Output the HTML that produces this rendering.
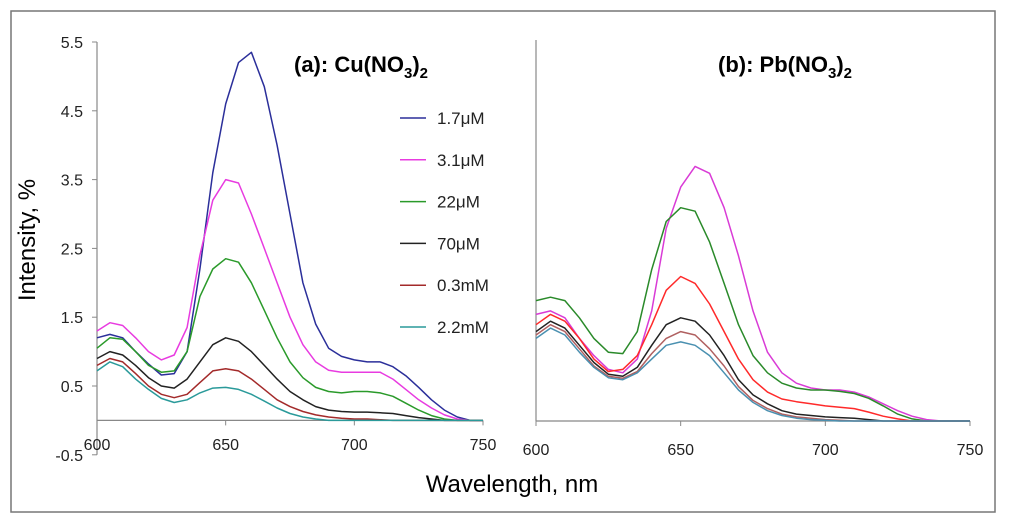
<!DOCTYPE html>
<html><head><meta charset="utf-8"><style>
body{margin:0;background:#fff;}
svg text{font-family:"Liberation Sans",sans-serif;}
</style></head><body>
<svg id="chart" width="1024" height="526" xmlns="http://www.w3.org/2000/svg">
<rect x="11" y="11" width="984" height="501" fill="#fff" stroke="#777" stroke-width="1.5"/>
<g id="ga"></g>
<g id="gb"></g>
<text x="35" y="240" font-size="24" text-anchor="middle" transform="rotate(-90 35 240)">Intensity, %</text>
<text x="512" y="492" font-size="24" text-anchor="middle">Wavelength, nm</text>
<text x="294" y="72" font-size="22" font-weight="bold">(a): Cu(NO<tspan font-size="15" dy="6">3</tspan><tspan dy="-6">)</tspan><tspan font-size="15" dy="6">2</tspan></text>
<text x="718" y="72" font-size="22" font-weight="bold">(b): Pb(NO<tspan font-size="15" dy="6">3</tspan><tspan dy="-6">)</tspan><tspan font-size="15" dy="6">2</tspan></text>
<g id="legend"></g>
</svg>
<script>
const wl=[600,605,610,615,620,625,630,635,640,645,650,655,660,665,670,675,680,685,690,695,700,705,710,715,720,725,730,735,740,745,750];
const labels=["1.7μM","3.1μM","22μM","70μM","0.3mM","2.2mM"];
const yTicks=[-0.5,0.5,1.5,2.5,3.5,4.5,5.5];
const xTicks=[600,650,700,750];
const aBlue=[1.2,1.25,1.2,1.0,0.82,0.66,0.68,1.0,2.2,3.6,4.6,5.2,5.35,4.85,4.0,3.0,2.0,1.4,1.05,0.93,0.88,0.85,0.85,0.78,0.65,0.48,0.3,0.15,0.05,0,0];
const aMagenta=[1.3,1.42,1.38,1.2,1.0,0.88,0.95,1.35,2.4,3.2,3.5,3.45,3.0,2.5,2.0,1.5,1.1,0.85,0.73,0.7,0.7,0.7,0.7,0.6,0.45,0.3,0.18,0.08,0.02,0,0];
const aGreen=[1.05,1.2,1.18,1.0,0.8,0.7,0.72,1.0,1.8,2.2,2.35,2.3,2.0,1.6,1.2,0.85,0.62,0.48,0.42,0.4,0.42,0.42,0.4,0.35,0.25,0.15,0.07,0.02,0,0,0];
const aBlack=[0.9,1.0,0.95,0.8,0.62,0.5,0.47,0.6,0.85,1.1,1.2,1.15,1.0,0.8,0.6,0.42,0.3,0.2,0.15,0.13,0.12,0.12,0.11,0.1,0.07,0.04,0.02,0,0,0,0];
const aBrown=[0.8,0.9,0.85,0.68,0.5,0.38,0.33,0.38,0.55,0.72,0.75,0.72,0.6,0.45,0.3,0.2,0.13,0.08,0.05,0.03,0.02,0.02,0.01,0,0,0,0,0,0,0,0];
const aTeal=[0.72,0.85,0.78,0.6,0.45,0.32,0.26,0.3,0.4,0.47,0.48,0.45,0.38,0.28,0.18,0.1,0.05,0.02,0,0,0,0,0,0,0,0,0,0,0,0,0];
const bMagenta=[1.55,1.6,1.5,1.2,0.95,0.75,0.7,0.9,1.6,2.8,3.4,3.7,3.6,3.1,2.4,1.6,1.0,0.7,0.55,0.48,0.45,0.45,0.42,0.35,0.25,0.15,0.07,0.02,0,0,0];
const bGreen=[1.75,1.8,1.75,1.5,1.2,1.0,0.98,1.3,2.2,2.9,3.1,3.05,2.6,2.0,1.4,0.95,0.7,0.55,0.48,0.45,0.45,0.43,0.4,0.33,0.22,0.1,0.03,0,0,0,0];
const bRed=[1.4,1.55,1.45,1.2,0.9,0.72,0.75,0.95,1.4,1.9,2.1,2.0,1.7,1.3,0.9,0.6,0.42,0.32,0.28,0.25,0.22,0.2,0.18,0.13,0.07,0.03,0,0,0,0,0];
const bBlack=[1.3,1.45,1.35,1.1,0.85,0.68,0.65,0.78,1.1,1.4,1.5,1.45,1.25,0.95,0.6,0.38,0.25,0.15,0.1,0.08,0.06,0.05,0.04,0.02,0,0,0,0,0,0,0];
const bBrown=[1.25,1.4,1.3,1.05,0.8,0.65,0.62,0.72,0.98,1.2,1.3,1.25,1.05,0.8,0.5,0.3,0.18,0.1,0.06,0.04,0.02,0.01,0,0,0,0,0,0,0,0,0];
const bSteel=[1.2,1.35,1.25,1.0,0.78,0.63,0.6,0.7,0.9,1.1,1.15,1.1,0.95,0.7,0.45,0.27,0.15,0.08,0.04,0.02,0.01,0,0,0,0,0,0,0,0,0,0];
const NS="http://www.w3.org/2000/svg";
function mk(tag,attrs,parent){const e=document.createElementNS(NS,tag);for(const k in attrs)e.setAttribute(k,attrs[k]);parent.appendChild(e);return e;}
function panel(g,x0,x1,zeroY,topY,showY,labY,series,colors,names){
  const sx=v=>x0+(v-600)/150*(x1-x0);
  const sy=v=>zeroY-v*68.8;
  const axY=mk('line',{x1:x0,y1:topY,x2:x0,y2:showY?sy(-0.5):zeroY,stroke:'#888','stroke-width':1.2},g);
  
  
  const axX=mk('line',{x1:x0,y1:zeroY,x2:x1,y2:zeroY,stroke:'#888','stroke-width':1.2},g);
  
  
  if(showY){yTicks.forEach(t=>{
    mk('line',{x1:x0-5,y1:sy(t),x2:x0,y2:sy(t),stroke:'#888'},g);
    const tx=mk('text',{x:x0-14,y:sy(t)+6,'font-size':16,'text-anchor':'end',fill:'#222'},g);
    tx.textContent=t.toFixed(1);
    
    
  });}
  xTicks.forEach(t=>{
    mk('line',{x1:sx(t),y1:zeroY,x2:sx(t),y2:zeroY+5,stroke:'#888'},g);
    const tx=mk('text',{x:sx(t),y:labY,'font-size':16,'text-anchor':'middle',fill:'#222'},g);
    tx.textContent=t;
    
    
  });
  series.forEach((s,i)=>{
    const d=s.map((v,j)=>(j?'L':'M')+sx(wl[j]).toFixed(1)+','+sy(v).toFixed(1)).join(' ');
    const p=mk('path',{d:d,fill:'none',stroke:colors[i],'stroke-width':1.5,'stroke-linejoin':'round'},g);
    
    
  });
}
const colA=['#2b2f9a','#e83be0','#2a9a2a','#222','#a32a2a','#2a9a9a'];
panel(document.getElementById('ga'),97,483,420.4,42,true,450,[aBlue,aMagenta,aGreen,aBlack,aBrown,aTeal],colA,['line-a-1.7uM','line-a-3.1uM','line-a-22uM','line-a-70uM','line-a-0.3mM','line-a-2.2mM']);
panel(document.getElementById('gb'),536,970,421,40,false,455,[bMagenta,bGreen,bRed,bBlack,bBrown,bSteel],['#d93bd6','#2a8a2a','#ff2a2a','#222','#b06060','#4a90b0'],['line-b-magenta','line-b-green','line-b-red','line-b-black','line-b-brown','line-b-steelblue']);
const lg=document.getElementById('legend');
labels.forEach((l,i)=>{
  const y=118+i*41.8;
  const ln=mk('line',{x1:400,y1:y,x2:426,y2:y,stroke:colA[i],'stroke-width':1.5},lg);
  
  
  const t=mk('text',{x:437,y:y+6,'font-size':17,fill:'#222'},lg);
  t.textContent=l;
  
  
});
</script>
</body></html>
